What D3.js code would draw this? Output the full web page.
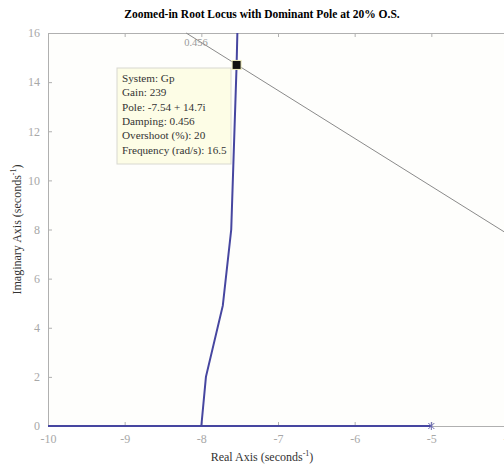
<!DOCTYPE html>
<head>
  <meta charset="utf-8">
  <script src="https://d3js.org/d3.v7.min.js"></script>
  <style>
    body { margin: 0; background: #fff; font-family: "Liberation Serif", serif; }
    .tick text { fill: #a8a8a8; font-size: 12px; font-family: "Liberation Serif", serif; }
    .tick line, .domain { stroke: #b0b0b0; }
  </style>
</head>
<body>
  <script>
    // locus branch (real, imaginary)
    var locusRe = [-8, -7.94, -7.72, -7.61, -7.54, -7.53];
    var locusIm = [0, 2.0, 4.9, 8.0, 14.7, 16];
    // real-axis segment
    var axisBranch = [-10, -5];
    var zeroRe = -5;
    var pole = {re: -7.54, im: 14.7};
    var damping = 0.456;
    var xTicks = [-10, -9, -8, -7, -6, -5, -4];
    var yTicks = [0, 2, 4, 6, 8, 10, 12, 14, 16];
    var tipLines = ["System: Gp", "Gain: 239", "Pole: -7.54 + 14.7i", "Damping: 0.456",
                    "Overshoot (%): 20", "Frequency (rad/s): 16.5"];

    var width = 504, height = 467;
    var margin = {top: 33, left: 48, bottom: 41};

    var svg = d3.select("body").append("svg")
      .attr("width", width)
      .attr("height", height);

    var x = d3.scaleLinear().domain([-10, -4]).range([margin.left, 508]);
    var y = d3.scaleLinear().domain([0, 16]).range([height - margin.bottom, margin.top]);

    svg.append("rect")
      .attr("x", x(-10)).attr("y", y(16))
      .attr("width", x(-4) - x(-10)).attr("height", y(0) - y(16))
      .attr("fill", "#fefefc");

    // plain hyphen, like the original
    var fmt = function(d) { return String(d); };

    // axes box
    svg.append("g")
      .attr("transform", "translate(0," + y(0) + ")")
      .call(d3.axisBottom(x).tickValues(xTicks).tickSize(-4).tickPadding(8).tickFormat(fmt));
    svg.append("g")
      .attr("transform", "translate(0," + y(16) + ")")
      .call(d3.axisTop(x).tickValues(xTicks).tickSize(-4).tickFormat(""));
    svg.append("g")
      .attr("transform", "translate(" + x(-10) + ",0)")
      .call(d3.axisLeft(y).tickValues(yTicks).tickSize(-4).tickPadding(8).tickFormat(fmt));
    svg.selectAll(".domain").attr("stroke", "#b0b0b0");

    // damping line through origin
    var slope = Math.sqrt(1 - damping * damping) / damping;
    var reTop = -16 / slope;
    var reRight = -4;
    svg.append("line")
      .attr("x1", x(reTop)).attr("y1", y(16))
      .attr("x2", x(reRight)).attr("y2", y(-reRight * slope))
      .attr("stroke", "#8a8a8a").attr("stroke-width", 1);
    svg.append("text")
      .attr("x", x(reTop) - 2).attr("y", y(16) + 13)
      .attr("fill", "#9a9a9a").attr("font-size", 10.5)
      .text(damping);

    var blue = "#4646a0";
    svg.append("line")
      .attr("x1", x(axisBranch[0])).attr("y1", y(0))
      .attr("x2", x(axisBranch[1])).attr("y2", y(0))
      .attr("stroke", blue).attr("stroke-width", 2);

    var line = d3.line()
      .x(function(d, i) { return x(locusRe[i]); })
      .y(function(d, i) { return y(locusIm[i]); });
    svg.append("path")
      .datum(locusRe)
      .attr("d", line)
      .attr("fill", "none")
      .attr("stroke", blue).attr("stroke-width", 2);

    // marker at -5
    var zx = x(zeroRe), zy = y(0);
    svg.append("path")
      .attr("d", "M" + (zx - 3) + "," + (zy - 3) + "L" + (zx + 3) + "," + (zy + 3) +
                 "M" + (zx - 3) + "," + (zy + 3) + "L" + (zx + 3) + "," + (zy - 3) +
                 "M" + zx + "," + (zy - 4) + "L" + zx + "," + (zy + 4))
      .attr("stroke", "#6a6ab0").attr("stroke-width", 1);

    // data tip
    var tip = svg.append("g");
    tip.append("rect")
      .attr("x", 117).attr("y", 68).attr("width", 114).attr("height", 96)
      .attr("fill", "#fdfde6").attr("stroke", "#d8d8d0");
    tip.selectAll("text")
      .data(tipLines)
      .enter().append("text")
      .attr("x", 122)
      .attr("y", function(d, i) { return 82 + i * 14.3; })
      .attr("font-size", 11.2)
      .attr("fill", "#333")
      .text(function(d) { return d; });

    svg.append("rect")
      .attr("x", x(pole.re) - 4.5).attr("y", y(pole.im) - 4.5)
      .attr("width", 9).attr("height", 9)
      .attr("fill", "#111").attr("stroke", "#f2efc0").attr("stroke-width", 1);

    svg.append("text")
      .attr("x", 262).attr("y", 18)
      .attr("text-anchor", "middle")
      .attr("font-size", 11.5).attr("font-weight", "bold")
      .text("Zoomed-in Root Locus with Dominant Pole at 20% O.S.");

    var xl = svg.append("text")
      .attr("x", 262).attr("y", 461)
      .attr("text-anchor", "middle")
      .attr("font-size", 12).attr("fill", "#333");
    xl.append("tspan").text("Real Axis (seconds");
    xl.append("tspan").attr("dy", -5).attr("font-size", 8).text("-1");
    xl.append("tspan").attr("dy", 5).text(")");

    var yl = svg.append("text")
      .attr("transform", "translate(21," + y(8) + ") rotate(-90)")
      .attr("text-anchor", "middle")
      .attr("font-size", 12).attr("fill", "#333");
    yl.append("tspan").text("Imaginary Axis (seconds");
    yl.append("tspan").attr("dy", -5).attr("font-size", 8).text("-1");
    yl.append("tspan").attr("dy", 5).text(")");
  </script>
</body>
